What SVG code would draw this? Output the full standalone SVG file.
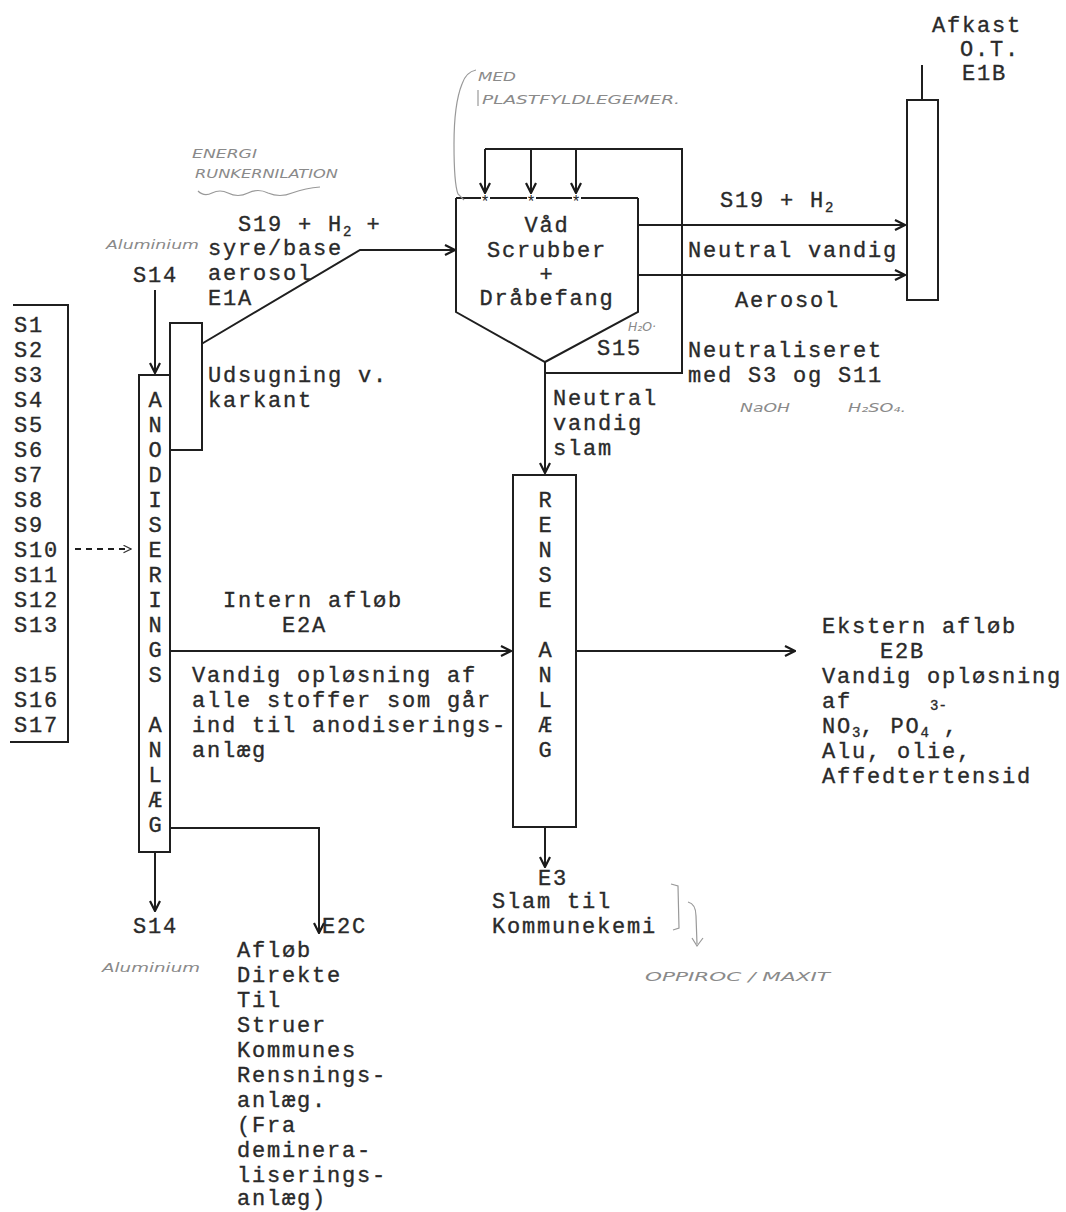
<svg xmlns="http://www.w3.org/2000/svg" width="1066" height="1212" viewBox="0 0 1066 1212">
<defs>
<marker id="arr" viewBox="0 0 12 12" refX="11" refY="6" markerWidth="12" markerHeight="12" markerUnits="userSpaceOnUse" orient="auto">
<path d="M1,1 L11,6 L1,11" fill="none" stroke="#1a1a1a" stroke-width="2.2"/>
</marker>
<marker id="arrs" viewBox="0 0 12 12" refX="11" refY="6" markerWidth="9" markerHeight="9" markerUnits="userSpaceOnUse" orient="auto">
<path d="M1,1 L11,6 L1,11" fill="none" stroke="#333" stroke-width="1.6"/>
</marker>
</defs>
<style>
.t{font-family:"Liberation Mono","Courier New",monospace;font-size:22px;letter-spacing:1.8px;fill:#2a2a2a;stroke:#2a2a2a;stroke-width:0.35px}
.c{text-anchor:middle}
.sub{font-size:14px;letter-spacing:0}
.h{font-family:"DejaVu Sans",sans-serif;font-style:italic;font-size:13px;fill:#8a8a8a}
.box{fill:#fff;stroke:#1f1f1f;stroke-width:2}
.ln{fill:none;stroke:#1f1f1f;stroke-width:2}
.hl{fill:none;stroke:#999;stroke-width:1.2}
</style>
<rect width="1066" height="1212" fill="#fff"/>

<g id="connectors">
<path class="ln" d="M193,349 L360,250 L455,250" marker-end="url(#arr)"/>
<path class="ln" d="M155,290 L155,373" marker-end="url(#arr)"/>
<path class="ln" d="M75,549 L131,549" stroke-dasharray="6,5" stroke-width="1.5" marker-end="url(#arrs)"/>
<path class="ln" d="M545,362 L545,473" marker-end="url(#arr)"/>
<path class="ln" d="M545,373 L682,373 L682,149 L485,149"/>
<path class="ln" d="M485,149 L485,193" marker-end="url(#arr)"/>
<path class="ln" d="M531,149 L531,193" marker-end="url(#arr)"/>
<path class="ln" d="M576,149 L576,193" marker-end="url(#arr)"/>
<path class="ln" d="M638,225 L905,225" marker-end="url(#arr)"/>
<path class="ln" d="M638,275 L905,275" marker-end="url(#arr)"/>
<path class="ln" d="M922,65 L922,100"/>
<path class="ln" d="M170,651 L511,651" marker-end="url(#arr)"/>
<path class="ln" d="M576,651 L795,651" marker-end="url(#arr)"/>
<path class="ln" d="M545,827 L545,867" marker-end="url(#arr)"/>
<path class="ln" d="M170,828 L319,828 L319,933" marker-end="url(#arr)"/>
<path class="ln" d="M155,852 L155,911" marker-end="url(#arr)"/>
</g>

<g id="inputs">
<path class="ln" d="M13,305 L68,305 L68,742 L10,742"/>
<text class="t" x="14" y="332">S1</text>
<text class="t" x="14" y="357">S2</text>
<text class="t" x="14" y="382">S3</text>
<text class="t" x="14" y="407">S4</text>
<text class="t" x="14" y="432">S5</text>
<text class="t" x="14" y="457">S6</text>
<text class="t" x="14" y="482">S7</text>
<text class="t" x="14" y="507">S8</text>
<text class="t" x="14" y="532">S9</text>
<text class="t" x="14" y="557">S10</text>
<text class="t" x="14" y="582">S11</text>
<text class="t" x="14" y="607">S12</text>
<text class="t" x="14" y="632">S13</text>
<text class="t" x="14" y="682">S15</text>
<text class="t" x="14" y="707">S16</text>
<text class="t" x="14" y="732">S17</text>
</g>

<g id="anodisering">
<rect class="box" x="139" y="375" width="31" height="477"/>
<text class="t c" x="156" y="407">A</text>
<text class="t c" x="156" y="432">N</text>
<text class="t c" x="156" y="457">O</text>
<text class="t c" x="156" y="482">D</text>
<text class="t c" x="156" y="507">I</text>
<text class="t c" x="156" y="532">S</text>
<text class="t c" x="156" y="557">E</text>
<text class="t c" x="156" y="582">R</text>
<text class="t c" x="156" y="607">I</text>
<text class="t c" x="156" y="632">N</text>
<text class="t c" x="156" y="657">G</text>
<text class="t c" x="156" y="682">S</text>
<text class="t c" x="156" y="732">A</text>
<text class="t c" x="156" y="757">N</text>
<text class="t c" x="156" y="782">L</text>
<text class="t c" x="156" y="807">Æ</text>
<text class="t c" x="156" y="832">G</text>
</g>

<g id="udsugning">
<rect class="box" x="170" y="323" width="32" height="127"/>
<text class="t" x="208" y="382">Udsugning v.</text>
<text class="t" x="208" y="407">karkant</text>
</g>

<g id="s14-in">
<text class="t" x="133" y="282">S14</text>
<text class="h" x="106" y="249" textLength="93" lengthAdjust="spacingAndGlyphs">Aluminium</text>
</g>

<g id="e1a-label">
<text class="t" x="238" y="231">S19 + H<tspan class="sub" dy="5">2</tspan><tspan dy="-5"> +</tspan></text>
<text class="t" x="208" y="255">syre/base</text>
<text class="t" x="208" y="280">aerosol</text>
<text class="t" x="208" y="305">E1A</text>
<text class="h" x="192" y="158" textLength="65" lengthAdjust="spacingAndGlyphs">ENERGI</text>
<text class="h" x="195" y="178" textLength="143" lengthAdjust="spacingAndGlyphs">RUNKERNILATION</text>
<path class="hl" d="M198,191 q6,6 14,2 q8,-4 16,0 q10,5 20,0 q10,-5 20,0 q12,5 24,0 q14,-5 28,-6"/>
</g>

<g id="scrubber">
<path class="ln" d="M456,198 L456,312 L545,362 L638,312 L638,198"/>
<path class="ln" d="M456,198 L481,198 M490,198 L527,198 M536,198 L572,198 M581,198 L638,198"/>
<text x="485" y="207" font-family="Liberation Mono,monospace" font-size="16" text-anchor="middle" fill="#222">*</text>
<text x="531" y="207" font-family="Liberation Mono,monospace" font-size="16" text-anchor="middle" fill="#222">*</text>
<text x="576" y="207" font-family="Liberation Mono,monospace" font-size="16" text-anchor="middle" fill="#222">*</text>
<text class="t c" x="547" y="232">Våd</text>
<text class="t c" x="547" y="257">Scrubber</text>
<text class="t c" x="547" y="281">+</text>
<text class="t c" x="547" y="305">Dråbefang</text>
<text class="t" x="597" y="355">S15</text>
<text class="h" x="628" y="331" textLength="28" lengthAdjust="spacingAndGlyphs">H₂O·</text>
<text class="h" x="478" y="81" textLength="38" lengthAdjust="spacingAndGlyphs">MED</text>
<text class="h" x="482" y="104" textLength="198" lengthAdjust="spacingAndGlyphs">PLASTFYLDLEGEMER.</text>
<path class="hl" d="M476,70 q-10,2 -14,14 q-8,20 -8,60 q0,40 4,50 l6,6"/>
<path class="hl" d="M478,90 L478,106"/>
</g>

<g id="outlet-labels">
<text class="t" x="720" y="207">S19 + H<tspan class="sub" dy="5">2</tspan></text>
<text class="t" x="688" y="257">Neutral vandig</text>
<text class="t" x="735" y="307">Aerosol</text>
<text class="t" x="688" y="357">Neutraliseret</text>
<text class="t" x="688" y="382">med S3 og S11</text>
<text class="h" x="740" y="412" textLength="50" lengthAdjust="spacingAndGlyphs">NaOH</text>
<text class="h" x="848" y="412" textLength="58" lengthAdjust="spacingAndGlyphs">H₂SO₄.</text>
<text class="t" x="553" y="405">Neutral</text>
<text class="t" x="553" y="430">vandig</text>
<text class="t" x="553" y="455">slam</text>
</g>

<g id="afkast">
<rect class="box" x="907" y="100" width="31" height="200"/>
<text class="t" x="932" y="32">Afkast</text>
<text class="t" x="960" y="56">O.T.</text>
<text class="t" x="962" y="80">E1B</text>
</g>

<g id="rense">
<rect class="box" x="513" y="475" width="63" height="352"/>
<text class="t c" x="546" y="507">R</text>
<text class="t c" x="546" y="532">E</text>
<text class="t c" x="546" y="557">N</text>
<text class="t c" x="546" y="582">S</text>
<text class="t c" x="546" y="607">E</text>
<text class="t c" x="546" y="657">A</text>
<text class="t c" x="546" y="682">N</text>
<text class="t c" x="546" y="707">L</text>
<text class="t c" x="546" y="732">Æ</text>
<text class="t c" x="546" y="757">G</text>
</g>

<g id="intern">
<text class="t" x="223" y="607">Intern afløb</text>
<text class="t" x="282" y="632">E2A</text>
<text class="t" x="192" y="682">Vandig opløsning af</text>
<text class="t" x="192" y="707">alle stoffer som går</text>
<text class="t" x="192" y="732">ind til anodiserings-</text>
<text class="t" x="192" y="757">anlæg</text>
</g>

<g id="ekstern">
<text class="t" x="822" y="633">Ekstern afløb</text>
<text class="t" x="880" y="658">E2B</text>
<text class="t" x="822" y="683">Vandig opløsning</text>
<text class="t" x="822" y="708">af<tspan class="sub" x="930" dy="2">3-</tspan></text>
<text class="t" x="822" y="733">NO<tspan class="sub" dy="4">3</tspan><tspan dy="-4">, PO</tspan><tspan class="sub" dy="4">4</tspan><tspan dy="-4"> ,</tspan></text>
<text class="t" x="822" y="758">Alu, olie,</text>
<text class="t" x="822" y="783">Affedtertensid</text>
</g>

<g id="e3">
<text class="t" x="538" y="885">E3</text>
<text class="t" x="492" y="908">Slam til</text>
<text class="t" x="492" y="933">Kommunekemi</text>
<path class="hl" d="M671,884 L678,886 L679,928 L673,930"/>
<path class="hl" d="M688,902 q8,2 8,14 L697,944"/>
<path class="hl" d="M692,938 L697,946 L703,938"/>
<text class="h" x="645" y="981" textLength="185" lengthAdjust="spacingAndGlyphs">OPPIROC / MAXIT</text>
</g>

<g id="s14-out">
<text class="t" x="133" y="933">S14</text>
<text class="h" x="102" y="972" textLength="98" lengthAdjust="spacingAndGlyphs">Aluminium</text>
</g>

<g id="e2c">
<text class="t" x="322" y="933">E2C</text>
<text class="t" x="237" y="957">Afløb</text>
<text class="t" x="237" y="982">Direkte</text>
<text class="t" x="237" y="1007">Til</text>
<text class="t" x="237" y="1032">Struer</text>
<text class="t" x="237" y="1057">Kommunes</text>
<text class="t" x="237" y="1082">Rensnings-</text>
<text class="t" x="237" y="1107">anlæg.</text>
<text class="t" x="237" y="1132">(Fra</text>
<text class="t" x="237" y="1157">deminera-</text>
<text class="t" x="237" y="1182">liserings-</text>
<text class="t" x="237" y="1205">anlæg)</text>
</g>
</svg>
